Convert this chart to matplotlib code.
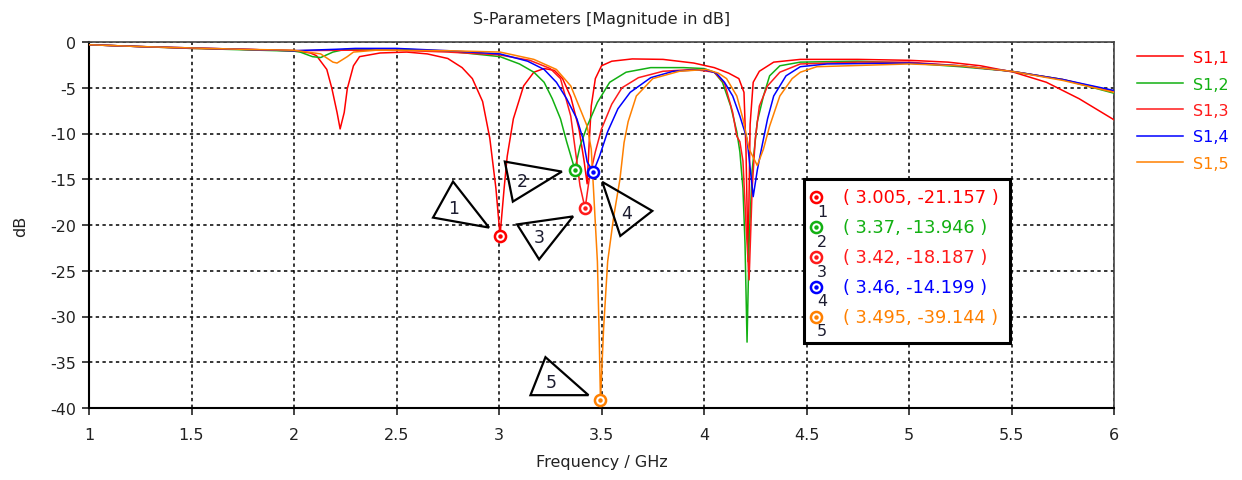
import matplotlib
matplotlib.use("Agg")
import matplotlib.pyplot as plt
import matplotlib.patches as mpatches
import matplotlib.transforms as mtransforms
from matplotlib.ticker import FormatStrFormatter

# ---- data ----
s11_f = [1.0, 1.25, 1.5, 1.75, 2.0, 2.08, 2.11, 2.16, 2.185, 2.21, 2.225, 2.245, 2.26, 2.29, 2.32,
         2.42, 2.55, 2.65, 2.75, 2.82, 2.87, 2.92, 2.955, 2.985, 3.005, 3.025, 3.04, 3.07, 3.12,
         3.17, 3.22, 3.27, 3.31, 3.35, 3.39, 3.415, 3.43, 3.44, 3.45, 3.47, 3.5, 3.55, 3.65, 3.8,
         3.95, 4.05, 4.12, 4.17, 4.195, 4.205, 4.215, 4.225, 4.24, 4.27, 4.34, 4.47, 4.75, 5.0,
         5.19, 5.35, 5.51, 5.67, 5.83, 6.0]
s11_db = [-0.3, -0.5, -0.65, -0.8, -0.95, -1.2, -1.5, -3.0, -5.1, -7.7, -9.5, -7.7, -5.1, -2.6, -1.6,
          -1.2, -1.1, -1.3, -1.8, -2.8, -4.0, -6.5, -10.5, -16.0, -21.157, -16.0, -12.5, -8.4, -4.8,
          -3.3, -2.9, -3.1, -4.0, -6.0, -9.5, -13.0, -15.5, -11.0, -7.0, -4.0, -2.6, -2.1, -1.85, -1.9,
          -2.3, -2.8, -3.4, -4.0, -5.5, -12.0, -24.0, -9.0, -4.4, -3.2, -2.2, -1.9, -1.9, -2.0,
          -2.2, -2.6, -3.3, -4.4, -6.2, -8.5]

s12_f = [1.0, 1.25, 1.5, 1.75, 2.0, 2.03, 2.09, 2.13, 2.19, 2.25, 2.5, 2.75, 3.005, 3.1, 3.17, 3.22,
         3.26, 3.3, 3.33, 3.355, 3.37, 3.395, 3.43, 3.48, 3.54, 3.62, 3.74, 3.9, 4.0, 4.05, 4.09,
         4.13, 4.16, 4.175, 4.19, 4.2, 4.21, 4.22, 4.235, 4.26, 4.29, 4.32, 4.37, 4.47, 4.75, 5.0,
         5.25, 5.5, 5.75, 6.0]
s12_db = [-0.3, -0.5, -0.7, -0.85, -1.0, -1.1, -1.6, -1.7, -1.1, -0.8, -0.75, -1.0, -1.6, -2.4, -3.3, -4.4,
          -6.2, -8.4, -10.9, -12.8, -13.946, -11.4, -9.2, -6.6, -4.4, -3.3, -2.8, -2.8, -2.9, -3.3, -4.4,
          -7.0, -9.8, -12.0, -16.0, -22.0, -32.8, -22.0, -14.0, -8.7, -5.9, -3.7, -2.6, -2.2, -2.1, -2.3,
          -2.7, -3.2, -4.1, -5.6]

s13_f = [1.0, 1.25, 1.5, 1.75, 2.0, 2.25, 2.5, 2.75, 3.0, 3.15, 3.25, 3.3, 3.35, 3.38, 3.395, 3.42,
         3.44, 3.47, 3.5, 3.55, 3.6, 3.68, 3.8, 3.95, 4.05, 4.1, 4.14, 4.16, 4.175, 4.19, 4.205,
         4.22, 4.235, 4.25, 4.27, 4.31, 4.37, 4.47, 4.75, 5.0, 5.25, 5.5, 5.75, 6.0]
s13_db = [-0.3, -0.5, -0.7, -0.8, -0.95, -0.9, -0.9, -1.1, -1.4, -2.0, -2.9, -4.0, -8.1, -13.1, -15.7, -18.187,
          -15.0, -12.0, -9.5, -6.8, -5.0, -3.9, -3.2, -3.0, -3.3, -4.5, -7.7, -10.3, -10.9, -13.0, -20.0,
          -26.0, -16.0, -10.6, -7.0, -4.8, -3.3, -2.4, -2.2, -2.2, -2.6, -3.2, -4.1, -5.4]

s14_f = [1.0, 1.25, 1.5, 1.75, 2.0, 2.2, 2.3, 2.5, 2.75, 3.005, 3.14, 3.22, 3.28, 3.33, 3.38, 3.41,
         3.43, 3.46, 3.49, 3.53, 3.58, 3.64, 3.74, 3.85, 4.0, 4.06, 4.1, 4.14, 4.175, 4.21, 4.24,
         4.26, 4.28, 4.31, 4.34, 4.4, 4.47, 4.6, 5.0, 5.25, 5.5, 5.75, 6.0]
s14_db = [-0.3, -0.5, -0.65, -0.8, -0.95, -0.8, -0.7, -0.7, -0.95, -1.3, -2.1, -3.0, -4.4, -6.2, -8.4, -10.6,
          -13.1, -14.199, -12.5, -9.8, -7.3, -5.5, -3.9, -3.2, -3.0, -3.4, -4.4, -5.9, -8.1, -10.6, -16.9,
          -14.0, -11.7, -8.4, -5.9, -3.7, -2.7, -2.4, -2.3, -2.6, -3.2, -4.1, -5.3]

s15_f = [1.0, 1.25, 1.5, 1.75, 2.0, 2.13, 2.19, 2.21, 2.26, 2.29, 2.4, 2.75, 3.005, 3.17, 3.28, 3.35,
         3.39, 3.43, 3.45, 3.46, 3.48, 3.488, 3.495, 3.51, 3.53, 3.56, 3.59, 3.61, 3.63, 3.67, 3.75,
         3.88, 4.01, 4.07, 4.11, 4.16, 4.19, 4.22, 4.26, 4.29, 4.32, 4.37, 4.43, 4.47, 4.55, 5.0,
         5.25, 5.5, 5.75, 6.0]
s15_db = [-0.3, -0.5, -0.65, -0.8, -0.9, -1.3, -2.2, -2.3, -1.6, -1.1, -0.9, -0.95, -1.1, -1.9, -3.0, -4.8,
          -7.0, -9.2, -11.7, -15.7, -24.0, -31.4, -39.144, -31.4, -24.0, -19.0, -15.0, -11.0, -8.7, -5.9, -4.0,
          -3.2, -3.0, -3.4, -4.0, -5.9, -8.4, -11.7, -13.5, -11.7, -9.2, -5.9, -4.0, -3.3, -2.7, -2.4,
          -2.6, -3.2, -4.2, -5.5]

series_names = ["S1,1", "S1,2", "S1,3", "S1,4", "S1,5"]
series_colors = ["#ff0000", "#12b012", "#ff1a1a", "#0000ff", "#ff8000"]

marker_ids = ["1", "2", "3", "4", "5"]
marker_series = [0, 1, 2, 3, 4]
marker_freq = [3.005, 3.37, 3.42, 3.46, 3.495]
marker_db = [-21.157, -13.946, -18.187, -14.199, -39.144]

# triangle label shapes, pixel offsets from each marker (x right, y down)
tri_offsets = [
    [(-47, -54), (-67, -18), (-11, -8)],
    [(-70, -8), (-62, 32), (-13, 2)],
    [(-68, 16), (-12, 8), (-46, 51)],
    [(9, 10), (59, 39), (27, 64)],
    [(-55, -43), (-70, -5), (-12, -5)],
]
tri_label_offsets = [(-46, -28), (-53, 11), (-46, 29), (33, 41), (-49, -18)]

plt.rcParams["font.family"] = ["DejaVu Sans"]
plt.rcParams["axes.unicode_minus"] = False

fig = plt.figure(figsize=(12.42, 4.81), dpi=100)
ax = fig.add_axes([89 / 1242, 72 / 481, 1025 / 1242, 366 / 481])

all_f = [s11_f, s12_f, s13_f, s14_f, s15_f]
all_db = [s11_db, s12_db, s13_db, s14_db, s15_db]
lines = []
for f, db, name, col in zip(all_f, all_db, series_names, series_colors):
    ln, = ax.plot(f, db, color=col, linewidth=1.1, label=name, zorder=3)
    lines.append(ln)

ax.set_xlim(1, 6)
ax.set_ylim(-40, 0)
ax.set_xticks([1, 1.5, 2, 2.5, 3, 3.5, 4, 4.5, 5, 5.5, 6])
ax.set_yticks([0, -5, -10, -15, -20, -25, -30, -35, -40])
ax.xaxis.set_major_formatter(FormatStrFormatter("%g"))
ax.yaxis.set_major_formatter(FormatStrFormatter("%g"))
ax.tick_params(direction="out", length=5, width=1.2, labelsize=11.5, colors="#222222")
ax.tick_params(axis="x", pad=9)
ax.tick_params(axis="y", pad=4)
ax.grid(True, color="black", linestyle=(0, (2.2, 2.2)), linewidth=1.1)
ax.set_axisbelow(True)
for side in ["left", "bottom"]:
    ax.spines[side].set_linewidth(1.5)
    ax.spines[side].set_color("black")
for side in ["top", "right"]:
    ax.spines[side].set_linewidth(1.2)
    ax.spines[side].set_color("#444444")

ax.set_title("S-Parameters [Magnitude in dB]", fontsize=11.5, color="#222222", pad=14)
ax.set_xlabel("Frequency / GHz", fontsize=11.5, color="#222222", labelpad=8)
ax.set_ylabel("dB", fontsize=11.5, color="#222222", labelpad=16)

# markers on curves
for i, (fq, d) in enumerate(zip(marker_freq, marker_db)):
    col = series_colors[marker_series[i]]
    ax.plot([fq], [d], marker="o", markersize=8, markerfacecolor="white",
            markeredgecolor=col, markeredgewidth=1.8, zorder=6)
    ax.plot([fq], [d], marker="o", markersize=2.2, color=col, zorder=7)

    trans = fig.dpi_scale_trans + mtransforms.ScaledTranslation(fq, d, ax.transData)
    verts = [(px / 100, -py / 100) for px, py in tri_offsets[i]]
    ax.add_patch(mpatches.Polygon(verts, closed=True, fill=False, edgecolor="black",
                                  linewidth=1.6, transform=trans, zorder=8, clip_on=False))
    lx, ly = tri_label_offsets[i]
    ax.text(lx / 100, -ly / 100, marker_ids[i], transform=trans, fontsize=12.5,
            color="#1c1c30", ha="center", va="center", zorder=9)

# marker table box
box_x0 = (804 - 89) / 1025
box_x1 = (1010 - 89) / 1025
box_y0 = (409 - 344) / 366
box_y1 = (409 - 180) / 366
ax.add_patch(mpatches.Rectangle((box_x0, box_y0), box_x1 - box_x0, box_y1 - box_y0,
                                transform=ax.transAxes, facecolor="white", edgecolor="black",
                                linewidth=2.2, zorder=10))
row_top = (409 - 198.3) / 366
row_step = 29.9 / 366
sym_x = (816 - 89) / 1025
txt_x = (843 - 89) / 1025
for i, (fq, d) in enumerate(zip(marker_freq, marker_db)):
    col = series_colors[marker_series[i]]
    y = row_top - i * row_step
    ax.plot([sym_x], [y], marker="o", markersize=8, markerfacecolor="white",
            markeredgecolor=col, markeredgewidth=1.8, transform=ax.transAxes, zorder=11,
            clip_on=False)
    ax.plot([sym_x], [y], marker="o", markersize=2.2, color=col, transform=ax.transAxes,
            zorder=12, clip_on=False)
    ax.text(sym_x + 6 / 1025, y - 14 / 366, marker_ids[i], transform=ax.transAxes,
            fontsize=11.5, color="#1c1c30", ha="center", va="center", zorder=12)
    ax.text(txt_x, y, f"( {fq:g}, {d:g} )", transform=ax.transAxes, fontsize=12.8,
            color=col, ha="left", va="center", zorder=12)

leg = fig.legend(handles=lines, loc="upper left", bbox_to_anchor=(1137 / 1242, 1 - 51 / 481),
                 frameon=False, fontsize=11.5, handlelength=2.9, handletextpad=0.6,
                 labelspacing=0.72, borderpad=0, borderaxespad=0)
for txt, ln in zip(leg.get_texts(), leg.get_lines()):
    txt.set_color(ln.get_color())

fig.savefig("out.png", dpi=100)
